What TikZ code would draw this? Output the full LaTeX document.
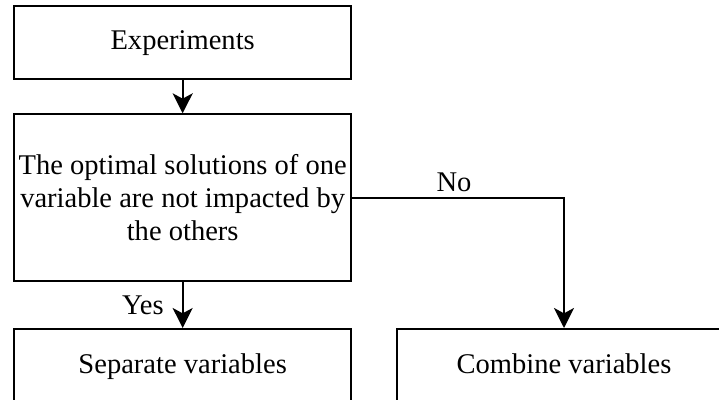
\documentclass[tikz,border=0pt]{standalone}
\usepackage{fontspec}
\setmainfont{Liberation Serif}
\usetikzlibrary{arrows.meta, positioning}
\tikzset{
  box/.style={rectangle,draw,line width=1.5pt,align=center,inner sep=2pt,minimum width=253pt,
    font=\fontsize{21.4pt}{24.75pt}\selectfont},
  endbox/.style={box,minimum height=56pt,text height=15pt,text depth=4pt},
  line/.style={line width=1.5pt,-{Stealth[length=15pt,width=15pt,inset=4pt]}},
  lbl/.style={inner sep=1.5pt,font=\fontsize{21.4pt}{24.75pt}\selectfont}
}

\begin{document}
\begin{tikzpicture}[node distance=24.75pt and 33pt]
\useasboundingbox (0,0) rectangle (539.25pt,-300pt);
\node[box, minimum height=55pt, anchor=north west] (exp) at (9.75pt,-3.75pt) {Experiments};
\node[box, minimum height=125pt, below=of exp] (cond) {The optimal solutions of one\\variable are not impacted by\\the others};
\node[endbox, below=34.5pt of cond] (sep) {Separate variables};
\node[endbox, minimum width=250pt, right=of sep] (comb) {Combine variables};
\draw[line] (exp) -- (cond);
\draw[line] (cond) -- node[lbl, left=12pt] {Yes} (sep);
\draw[line] (cond.east) -| node[lbl, pos=0.24, above=2pt] {No} (comb.north);
\end{tikzpicture}
\end{document}
